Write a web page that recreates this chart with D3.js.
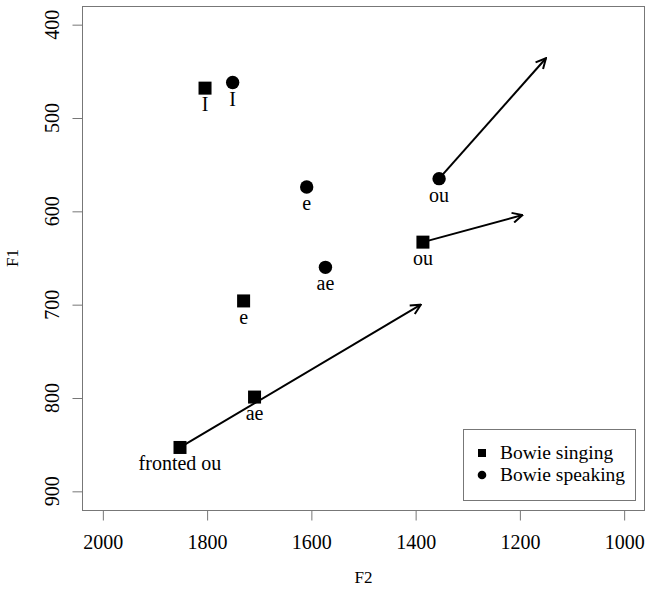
<!DOCTYPE html>
<html>
<head>
<meta charset="utf-8">
<script src="https://cdn.jsdelivr.net/npm/d3@7"></script>
<style>
  body { margin: 0; background: #fff; overflow: hidden; }
  svg { display: block; }
  text { font-family: "Liberation Serif", "DejaVu Serif", serif; fill: #000; }
</style>
</head>
<body>
<div id="chart"></div>
<script>
// Bowie singing (squares)
var singLabels = ["I", "e", "ae", "ou", "fronted ou"];
var singF2 = [1804, 1730, 1709, 1386, 1852];
var singF1 = [468, 696, 799, 633, 853];

// Bowie speaking (circles)
var speakLabels = ["I", "e", "ae", "ou"];
var speakF2 = [1751, 1609, 1573, 1355];
var speakF1 = [462, 574, 660, 565];

// arrows: start / end in F2,F1
var arrowFromF2 = [1852, 1386, 1355];
var arrowFromF1 = [853, 633, 565];
var arrowToF2 = [1390, 1195, 1150];
var arrowToF1 = [700, 604, 436];

var xTicks = [2000, 1800, 1600, 1400, 1200, 1000];
var yTicks = [400, 500, 600, 700, 800, 900];
var legendLabels = ["Bowie singing", "Bowie speaking"];

var W = 646, H = 589;
var plotLeft = 82, plotRight = 645, plotTop = 6, plotBottom = 510;

var svg = d3.select("#chart").append("svg")
    .attr("width", W).attr("height", H);

var x = d3.scaleLinear().domain([2040, 960]).range([plotLeft, plotRight]);
var y = d3.scaleLinear().domain([380, 920]).range([plotTop, plotBottom]);

var axisCol = "#777";

// box
svg.append("rect")
    .attr("x", plotLeft + 0.5).attr("y", plotTop + 0.5)
    .attr("width", plotRight - plotLeft - 1).attr("height", plotBottom - plotTop)
    .attr("fill", "none").attr("stroke", axisCol);

// x axis
var xa = svg.append("g").attr("transform", "translate(0," + (plotBottom + 0.5) + ")")
    .call(d3.axisBottom(x).tickValues(xTicks).tickSize(10).tickPadding(14).tickFormat(d3.format("d")));
xa.select(".domain").remove();
xa.selectAll("line").attr("stroke", axisCol);
xa.selectAll("text").style("font-size", "20px").attr("fill", "#000").style("font-family", "Liberation Serif");

// y axis
var ya = svg.append("g").attr("transform", "translate(" + (plotLeft + 0.5) + ",0)")
    .call(d3.axisLeft(y).tickValues(yTicks).tickSize(10).tickFormat(""));
ya.select(".domain").remove();
ya.selectAll("line").attr("stroke", axisCol);
svg.selectAll(".ylab").data(yTicks).enter().append("text")
    .attr("class", "ylab")
    .attr("transform", function (d) { return "translate(59," + y(d) + ") rotate(-90)"; })
    .attr("text-anchor", "middle")
    .style("font-size", "20px")
    .text(function (d) { return d; });

// axis titles
svg.append("text").attr("x", (plotLeft + plotRight) / 2).attr("y", 583)
    .attr("text-anchor", "middle").style("font-size", "17px").text("F2");
svg.append("text").attr("transform", "translate(18," + ((plotTop + plotBottom) / 2) + ") rotate(-90)")
    .attr("text-anchor", "middle").style("font-size", "17px").text("F1");

// arrows
var defs = svg.append("defs");
defs.append("marker")
    .attr("id", "head").attr("viewBox", "0 0 12 12")
    .attr("refX", 11).attr("refY", 6)
    .attr("markerWidth", 12).attr("markerHeight", 12)
    .attr("markerUnits", "userSpaceOnUse")
    .attr("orient", "auto")
    .append("path").attr("d", "M1,1 L11,6 L1,11")
    .attr("fill", "none").attr("stroke", "#000").attr("stroke-width", 2);

svg.selectAll(".arrow").data(arrowFromF2).enter().append("line")
    .attr("class", "arrow")
    .attr("x1", function (d, i) { return x(arrowFromF2[i]); })
    .attr("y1", function (d, i) { return y(arrowFromF1[i]); })
    .attr("x2", function (d, i) { return x(arrowToF2[i]); })
    .attr("y2", function (d, i) { return y(arrowToF1[i]); })
    .attr("stroke", "#000").attr("stroke-width", 2)
    .attr("marker-end", "url(#head)");

// squares
var sq = 13;
svg.selectAll(".sq").data(singF2).enter().append("rect")
    .attr("class", "sq")
    .attr("x", function (d) { return x(d) - sq / 2; })
    .attr("y", function (d, i) { return y(singF1[i]) - sq / 2; })
    .attr("width", sq).attr("height", sq)
    .attr("fill", "#000");
svg.selectAll(".sqlab").data(singLabels).enter().append("text")
    .attr("class", "sqlab")
    .attr("x", function (d, i) { return x(singF2[i]); })
    .attr("y", function (d, i) { return y(singF1[i]) + 23; })
    .attr("text-anchor", "middle").style("font-size", "20px")
    .text(function (d) { return d; });

// circles
svg.selectAll(".ci").data(speakF2).enter().append("circle")
    .attr("class", "ci")
    .attr("cx", function (d) { return x(d); })
    .attr("cy", function (d, i) { return y(speakF1[i]); })
    .attr("r", 6.7).attr("fill", "#000");
svg.selectAll(".cilab").data(speakLabels).enter().append("text")
    .attr("class", "cilab")
    .attr("x", function (d, i) { return x(speakF2[i]); })
    .attr("y", function (d, i) { return y(speakF1[i]) + 23; })
    .attr("text-anchor", "middle").style("font-size", "20px")
    .text(function (d) { return d; });

// legend
var lg = svg.append("g");
lg.append("rect").attr("x", 463.5).attr("y", 429.5).attr("width", 172).attr("height", 71)
    .attr("fill", "#fff").attr("stroke", axisCol);
lg.append("rect").attr("x", 478).attr("y", 449).attr("width", 8).attr("height", 8).attr("fill", "#000");
lg.append("circle").attr("cx", 482).attr("cy", 475).attr("r", 4.3).attr("fill", "#000");
lg.selectAll(".lgt").data(legendLabels).enter().append("text")
    .attr("class", "lgt")
    .attr("x", 500).attr("y", function (d, i) { return 459 + i * 22; })
    .style("font-size", "19.5px")
    .text(function (d) { return d; });
</script>
</body>
</html>
